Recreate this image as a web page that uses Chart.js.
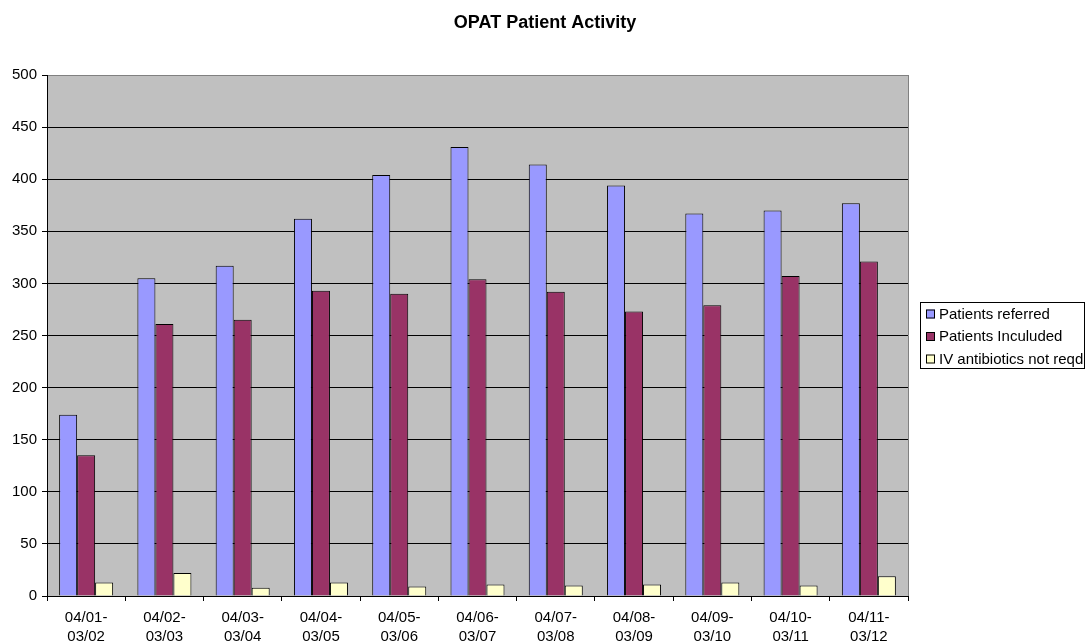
<!DOCTYPE html>
<html>
<head>
<meta charset="utf-8">
<title>OPAT Patient Activity</title>
<script src="https://cdn.jsdelivr.net/npm/chart.js@4"></script>
<style>
  html, body { margin:0; padding:0; background:#fff; }
  canvas { display:block; }
</style>
</head>
<body>
<canvas id="chart" width="1085" height="642"></canvas>
<script>
  // ---- data
  const categories = [
    ['04/01-','03/02'], ['04/02-','03/03'], ['04/03-','03/04'], ['04/04-','03/05'],
    ['04/05-','03/06'], ['04/06-','03/07'], ['04/07-','03/08'], ['04/08-','03/09'],
    ['04/09-','03/10'], ['04/10-','03/11'], ['04/11-','03/12']
  ];
  const referred = [174, 305, 317, 362, 404, 431, 414, 394, 367, 370, 377];
  const included = [135, 261, 265, 293, 290, 304, 292, 273, 279, 307, 321];
  const notReqd  = [13, 22, 8, 13, 9, 11, 10, 11, 13, 10, 19];
  const seriesNames = ['Patients referred', 'Patients Inculuded', 'IV antibiotics not reqd'];
  const seriesColors = ['#9999ff', '#993366', '#ffffcc'];
  const yTicks = { min:0, max:500, step:50 };
  const chartTitle = 'OPAT Patient Activity';

  const FONT = "'Liberation Sans', Arial, sans-serif";
  Chart.defaults.font.family = FONT;
  Chart.defaults.font.size = 15;
  Chart.defaults.color = '#000';

  // grey plot area + grey right edge + title over the whole canvas
  const plotFrame = {
    id:'plotFrame',
    beforeDraw(chart){
      const {ctx, chartArea:a} = chart;
      ctx.save();
      ctx.fillStyle = '#c0c0c0';
      ctx.fillRect(a.left, a.top, a.right - a.left, a.bottom - a.top);
      ctx.fillStyle = '#000';
      ctx.font = `bold 18px ${FONT}`;
      ctx.textAlign = 'center';
      ctx.textBaseline = 'middle';
      ctx.fillText(chartTitle, 545, 23);
      ctx.restore();
    },
    afterDatasetsDraw(chart){
      const {ctx, chartArea:a} = chart;
      ctx.save();
      ctx.strokeStyle = '#808080';
      ctx.lineWidth = 1;
      ctx.beginPath();
      ctx.moveTo(Math.round(a.right) + 0.5, a.top);
      ctx.lineTo(Math.round(a.right) + 0.5, a.bottom);
      ctx.stroke();
      ctx.restore();
    }
  };

  // boxed legend on the right, like excel
  const boxLegend = {
    id:'boxLegend',
    afterDraw(chart){
      const {ctx} = chart;
      const x = 920, y = 302, w = 164, h = 66, step = 22.5;
      ctx.save();
      ctx.strokeStyle = '#000';
      ctx.lineWidth = 1;
      ctx.strokeRect(x + 0.5, y + 0.5, w, h);
      ctx.font = `15px ${FONT}`;
      ctx.textBaseline = 'middle';
      chart.data.datasets.forEach((ds, i) => {
        const cy = y + 11.5 + i * step;
        ctx.fillStyle = ds.backgroundColor;
        ctx.fillRect(926, cy - 4, 9, 9);
        ctx.strokeRect(926.5, cy - 3.5, 8, 8);
        ctx.fillStyle = '#000';
        ctx.fillText(ds.label, 939, cy + 1);
      });
      ctx.restore();
    }
  };

  const makeSet = (i, data) => ({
    label: seriesNames[i],
    data,
    backgroundColor: seriesColors[i],
    borderColor: '#000',
    borderWidth: 1,
    borderSkipped: 'bottom',
    barPercentage: 1,
    categoryPercentage: 0.69
  });

  new Chart(document.getElementById('chart').getContext('2d'), {
    type: 'bar',
    data: {
      labels: categories,
      datasets: [ makeSet(0, referred), makeSet(1, included), makeSet(2, notReqd) ]
    },
    options: {
      responsive: false,
      animation: false,
      layout: { padding: { left:0, right:177, top:75, bottom:0 } },
      plugins: {
        legend: { display:false },
        tooltip: { enabled:false },
        title: { display:false }
      },
      scales: {
        x: {
          afterFit: s => { s.height = 46; },
          grid: { offset:true, drawOnChartArea:false, drawTicks:true, tickLength:5, color:'#000' },
          border: { color:'#000', width:1 },
          ticks: { padding:8, maxRotation:0, autoSkip:false, font:{ size:15, lineHeight:1.22 } }
        },
        y: {
          min: yTicks.min, max: yTicks.max,
          afterFit: s => { s.width = 47; },
          grid: {
            color: c => (c.tick && c.tick.value === yTicks.max) ? '#808080' : '#000',
            tickColor: '#000',
            tickLength: 5,
            drawTicks: true
          },
          border: { color:'#000', width:1 },
          ticks: { stepSize: yTicks.step, padding:5, font:{ size:15 } }
        }
      }
    },
    plugins: [plotFrame, boxLegend]
  });
</script>
</body>
</html>
